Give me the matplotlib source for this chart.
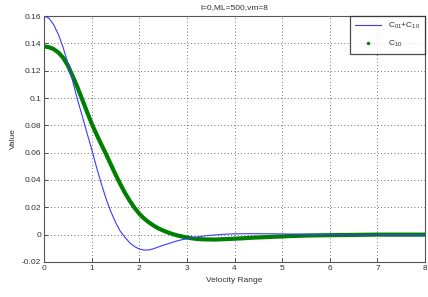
import numpy as np
import matplotlib
matplotlib.use("Agg")
import matplotlib.pyplot as plt
from matplotlib.lines import Line2D

# ---- data ----
blue_x = [0.0, 0.1, 0.2, 0.3, 0.4, 0.5, 0.6, 0.7, 0.8, 0.9, 1.0, 1.1, 1.2, 1.3,
          1.4, 1.5, 1.6, 1.7, 1.8, 1.9, 2.0, 2.1, 2.2, 2.3, 2.4, 2.5, 2.6, 2.7,
          2.8, 2.9, 3.0, 3.2, 3.4, 3.6, 3.8, 4.0, 4.4, 4.8, 5.2, 5.6, 6.0, 6.5,
          7.0, 7.5, 8.0]
blue_y = [0.1600, 0.1585, 0.1538, 0.1465, 0.1370, 0.1255, 0.1125, 0.0990,
          0.0870, 0.0745, 0.0625, 0.0495, 0.0375, 0.0265, 0.0170, 0.0090,
          0.0025, -0.0020, -0.0060, -0.0088, -0.0105, -0.0113, -0.0112,
          -0.0103, -0.0090, -0.0078, -0.0067, -0.0056, -0.0045, -0.0037,
          -0.0030, -0.0018, -0.0008, -0.0002, 0.0003, 0.0006, 0.0007, 0.0006,
          0.0004, 0.0002, 0.0001, 0.0, 0.0, 0.0, 0.0]

green_x = [0.0, 0.1, 0.2, 0.3, 0.4, 0.5, 0.6, 0.7, 0.8, 0.9, 1.0, 1.1, 1.2,
           1.3, 1.4, 1.5, 1.6, 1.7, 1.8, 1.9, 2.0, 2.1, 2.2, 2.3, 2.4, 2.5,
           2.6, 2.7, 2.8, 2.9, 3.0, 3.1, 3.2, 3.3, 3.4, 3.6, 3.8, 4.0, 4.2,
           4.4, 4.6, 4.8, 5.0, 5.2, 5.4, 5.6, 5.8, 6.0, 6.5, 7.0, 7.5, 8.0]
green_y = [0.1378, 0.1372, 0.1358, 0.1333, 0.1295, 0.1238, 0.1160, 0.1080,
           0.0990, 0.0900, 0.0812, 0.0735, 0.0662, 0.0590, 0.0515, 0.0440,
           0.0370, 0.0305, 0.0247, 0.0196, 0.0153, 0.0118, 0.0090, 0.0066,
           0.0046, 0.0030, 0.0016, 0.0004, -0.0006, -0.0014, -0.0021,
           -0.0027, -0.0031, -0.0034, -0.0035, -0.0036, -0.0033, -0.0030,
           -0.0026, -0.0022, -0.0019, -0.0016, -0.0013, -0.0010, -0.0008,
           -0.0006, -0.0005, -0.0004, -0.0002, 0.0, 0.0, 0.0]

x_ticks = [0, 1, 2, 3, 4, 5, 6, 7, 8]
y_ticks = [-0.02, 0, 0.02, 0.04, 0.06, 0.08, 0.1, 0.12, 0.14, 0.16]
y_ticklabels = ["-0.02", "0", "0.02", "0.04", "0.06", "0.08", "0.1", "0.12", "0.14", "0.16"]

title = "l=0,ML=500,vm=8"
label_blue = "C$_{01}$+C$_{10}$"
label_green = "C$_{10}$"

# ---- figure ----
plt.rcParams['font.family'] = ['Liberation Sans', 'DejaVu Sans']
plt.rcParams['mathtext.fontset'] = 'custom'
plt.rcParams['mathtext.rm'] = 'Liberation Sans'
plt.rcParams['mathtext.it'] = 'Liberation Sans'

fig = plt.figure(figsize=(4.28, 2.97), dpi=100)
ax = fig.add_axes([0.103, 0.118, 0.890, 0.828])

txtc = '#333333'
ax.plot(blue_x, blue_y, color='#3a3aff', lw=0.8, zorder=3)
ax.plot(green_x, green_y, color='#008000', lw=3.0, solid_capstyle='round', zorder=2)

ax.set_xlim(0, 8)
ax.set_ylim(-0.02, 0.16)
ax.set_xticks(x_ticks)
ax.set_yticks(y_ticks)
ax.set_yticklabels(y_ticklabels)
ax.tick_params(direction='in', length=3, width=0.6, labelsize=6, colors=txtc, pad=2)
ax.grid(True, linestyle=(0, (1, 3)), color='#444444', linewidth=0.6)
for s in ax.spines.values():
    s.set_color('#555555')
    s.set_linewidth(0.8)

ax.set_title(title, fontsize=6, color=txtc, pad=5)
ax.set_xlabel("Velocity Range", fontsize=6, color=txtc, labelpad=4)
ax.set_ylabel("Value", fontsize=6, color=txtc, labelpad=4)

handles = [Line2D([], [], color='#3a3aff', lw=0.8),
           Line2D([], [], color='#008000', marker='.', markersize=3, linestyle='none')]
leg = ax.legend(handles, [label_blue, label_green], loc='upper right',
                fontsize=6, frameon=True, fancybox=False, borderaxespad=0,
                handlelength=3.2, labelspacing=0.9, borderpad=0.6)
leg.get_frame().set_edgecolor('#222222')
leg.get_frame().set_linewidth(0.9)
for t in leg.get_texts():
    t.set_color(txtc)

fig.savefig("out.png", dpi=100)
